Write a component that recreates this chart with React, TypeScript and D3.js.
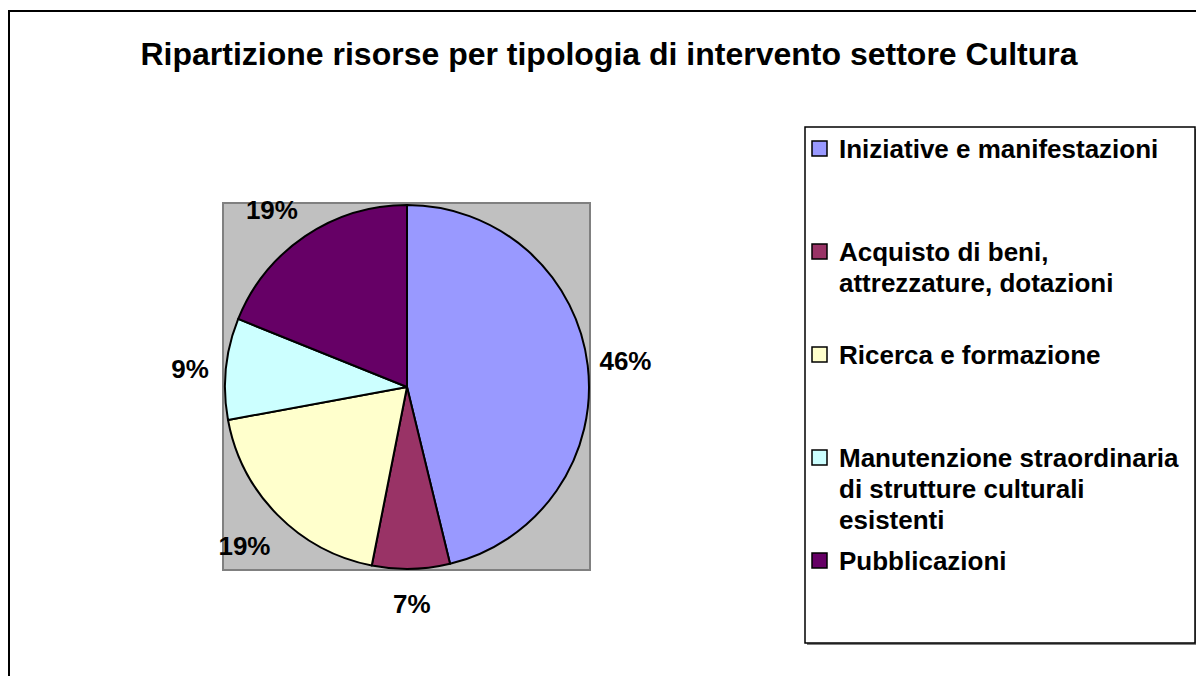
import React, { useEffect, useRef } from "react";
import * as d3 from "d3";

const title = "Ripartizione risorse per tipologia di intervento settore Cultura";
const categories = [
  "Iniziative e manifestazioni",
  "Acquisto di beni, attrezzature, dotazioni",
  "Ricerca e formazione",
  "Manutenzione straordinaria di strutture culturali esistenti",
  "Pubblicazioni",
];
const legendLines = [
  ["Iniziative e manifestazioni"],
  ["Acquisto di beni,", "attrezzature, dotazioni"],
  ["Ricerca e formazione"],
  ["Manutenzione straordinaria", "di strutture culturali", "esistenti"],
  ["Pubblicazioni"],
];
const values = [46.2, 6.9, 19.0, 9.0, 18.9];
const labels = ["46%", "7%", "19%", "9%", "19%"];
const colors = ["#9999FF", "#993366", "#FFFFCC", "#CCFFFF", "#660066"];

const FONT = "'Liberation Sans', Arial, sans-serif";

export default function App() {
  const ref = useRef<SVGSVGElement>(null);

  useEffect(() => {
    const width = 1196,
      height = 676;
    const svg = d3.select(ref.current);
    svg.selectAll("*").remove();
    svg.attr("width", width).attr("height", height);

    // chart area border
    svg
      .append("rect")
      .attr("x", 9)
      .attr("y", 11)
      .attr("width", width + 20)
      .attr("height", height + 20)
      .attr("fill", "white")
      .attr("stroke", "black")
      .attr("stroke-width", 2);

    svg
      .append("text")
      .attr("x", 609)
      .attr("y", 65)
      .attr("text-anchor", "middle")
      .style("font-family", FONT)
      .style("font-weight", "bold")
      .style("font-size", "32px")
      .text(title);

    // plot area
    svg
      .append("rect")
      .attr("x", 223)
      .attr("y", 203)
      .attr("width", 367)
      .attr("height", 367)
      .attr("fill", "#C0C0C0")
      .attr("stroke", "#808080")
      .attr("stroke-width", 2);

    const cx = 407,
      cy = 387,
      r = 182;
    const pie = d3
      .pie<number>()
      .sort(null)
      .value((d) => d);
    const arcs = pie(values);
    const arc = d3.arc<d3.PieArcDatum<number>>().innerRadius(0).outerRadius(r);
    const labelArc = d3
      .arc<d3.PieArcDatum<number>>()
      .innerRadius(220)
      .outerRadius(220);

    const g = svg.append("g").attr("transform", `translate(${cx},${cy})`);
    g.selectAll("path")
      .data(arcs)
      .join("path")
      .attr("d", arc)
      .attr("fill", (d, i) => colors[i])
      .attr("stroke", "black")
      .attr("stroke-width", 2)
      .attr("stroke-linejoin", "round");

    // small nudges to mimic Excel's "best fit" label placement
    const nudge = [
      [0, 0],
      [0, -3],
      [-6, 4],
      [2, 4],
      [-12, 5],
    ];
    g.selectAll("text")
      .data(arcs)
      .join("text")
      .attr("transform", (d, i) => {
        const [x, y] = labelArc.centroid(d);
        return `translate(${x + nudge[i][0]},${y + nudge[i][1]})`;
      })
      .attr("text-anchor", "middle")
      .attr("dy", "0.36em")
      .style("font-family", FONT)
      .style("font-weight", "bold")
      .style("font-size", "26px")
      .text((d, i) => labels[i]);

    // legend
    const lx = 805,
      ly = 127;
    svg
      .append("rect")
      .attr("x", lx + 2)
      .attr("y", ly + 2)
      .attr("width", 400)
      .attr("height", 516)
      .attr("fill", "#808080");
    svg
      .append("rect")
      .attr("x", lx)
      .attr("y", ly)
      .attr("width", 390)
      .attr("height", 516)
      .attr("fill", "white")
      .attr("stroke", "black")
      .attr("stroke-width", 1.5);

    const entry = svg
      .selectAll("g.entry")
      .data(categories)
      .join("g")
      .attr("class", "entry")
      .attr("transform", (d, i) => `translate(${lx},${ly + 22 + i * 103})`);

    entry
      .append("rect")
      .attr("x", 7)
      .attr("y", -8)
      .attr("width", 15)
      .attr("height", 15)
      .attr("fill", (d, i) => colors[i])
      .attr("stroke", "black")
      .attr("stroke-width", 1.5);

    entry
      .append("text")
      .style("font-family", FONT)
      .style("font-weight", "bold")
      .style("font-size", "26px")
      .selectAll("tspan")
      .data((d, i) => legendLines[i])
      .join("tspan")
      .attr("x", 34)
      .attr("y", (d, j) => j * 31)
      .attr("dy", "0.36em")
      .text((d) => d);
  }, []);

  return (
    <svg
      ref={ref}
      style={{ position: "absolute", left: 0, top: 0, display: "block" }}
    ></svg>
  );
}
